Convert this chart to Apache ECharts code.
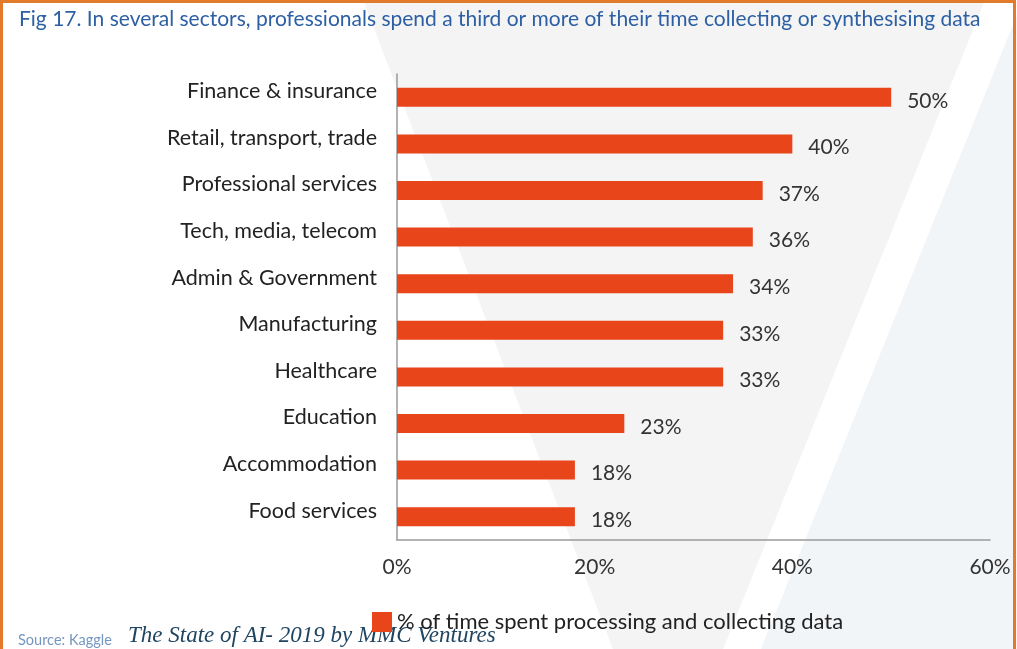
<!DOCTYPE html>
<html>
<head>
<meta charset="utf-8">
<title>Fig 17</title>
<script src="https://cdn.jsdelivr.net/npm/echarts@6/dist/echarts.min.js"></script>
<style>
  html, body { margin: 0; padding: 0; background: #fff; }
  #chart { width: 1017px; height: 649px; }
</style>
</head>
<body>
<div id="chart"></div>
<script>
// sectors, top to bottom
const sectors = [
  'Finance & insurance',
  'Retail, transport, trade',
  'Professional services',
  'Tech, media, telecom',
  'Admin & Government',
  'Manufacturing',
  'Healthcare',
  'Education',
  'Accommodation',
  'Food services'
]
// % of time spent processing and collecting data
const timeShare = [50, 40, 37, 36, 34, 33, 33, 23, 18, 18]
const xTicks = [0, 20, 40, 60]
const seriesName = '% of time spent processing and collecting data'

const myChart = echarts.init(document.getElementById('chart'))
const font = 'Lato, "Open Sans", sans-serif'

const option = {
  backgroundColor: '#fff',
  animation: false,
  title: {
    text: 'Fig 17. In several sectors, professionals spend a third or more of their time collecting or synthesising data',
    left: 14,
    top: 4,
    textStyle: { color: '#2c5fa3', fontSize: 21, fontWeight: 'normal', fontFamily: font }
  },
  legend: {
    data: [seriesName],
    left: 367,
    top: 606,
    icon: 'rect',
    itemWidth: 20,
    itemHeight: 20,
    itemGap: 10,
    textStyle: { color: '#222', fontSize: 22, fontFamily: font }
  },
  graphic: [
    // MMC "V" watermark behind the plot
    { type: 'polygon', z: -10, silent: true,
      shape: { points: [[363, 0], [985, 0], [723, 649], [613, 649]] },
      style: { fill: '#f4f4f4' } },
    { type: 'polygon', z: -10, silent: true,
      shape: { points: [[1023, 0], [1017, 0], [1017, 649], [761, 649]] },
      style: { fill: '#f2f5f8' } },
    // frame
    { type: 'rect', z: 100, silent: true,
      shape: { x: 1.5, y: 1.5, width: 1013, height: 680 },
      style: { fill: null, stroke: '#e27a2c', lineWidth: 3 } },
    { type: 'text', left: 18, top: 633,
      style: { text: 'Source: Kaggle', fill: '#7596c0', fontSize: 14.5, fontFamily: font } },
    { type: 'text', left: 128, top: 624,
      style: { text: 'The State of AI- 2019 by MMC Ventures', fill: '#1f4560',
        fontSize: 23, fontStyle: 'italic', fontFamily: '"Liberation Serif", serif' } }
  ],
  grid: {
    left: 397,
    right: 27,
    top: 74,
    height: 466,
    containLabel: false
  },
  xAxis: {
    type: 'value',
    min: 0,
    max: 60,
    interval: 20,
    splitLine: { show: false },
    axisTick: { show: false },
    axisLine: { show: true, lineStyle: { color: '#9a9a9a', width: 1.5 } },
    axisLabel: {
      color: '#333',
      fontSize: 21,
      fontFamily: font,
      margin: 17,
      formatter: function(v) { return xTicks.indexOf(v) > -1 ? v + '%' : '' }
    }
  },
  yAxis: {
    type: 'category',
    inverse: true,
    data: sectors,
    axisTick: { show: false },
    axisLine: { show: true, lineStyle: { color: '#9a9a9a', width: 1.5 } },
    axisLabel: {
      color: '#222',
      fontSize: 21.5,
      fontFamily: font,
      margin: 20,
      verticalAlign: 'bottom',
      lineHeight: 12
    }
  },
  series: [
    {
      name: seriesName,
      type: 'bar',
      data: timeShare,
      barWidth: 19,
      itemStyle: { color: '#e8451a' },
      label: {
        show: true,
        position: 'right',
        distance: 16,
        color: '#333',
        fontSize: 21,
        fontFamily: font,
        formatter: '{v|{c}%}',
        rich: { v: { fontSize: 21, fontFamily: font, color: '#333', padding: [7, 0, 0, 0] } }
      }
    }
  ]
}
myChart.setOption(option)
window.addEventListener('resize', function() {
  myChart.resize()
})
</script>
</body>
</html>
